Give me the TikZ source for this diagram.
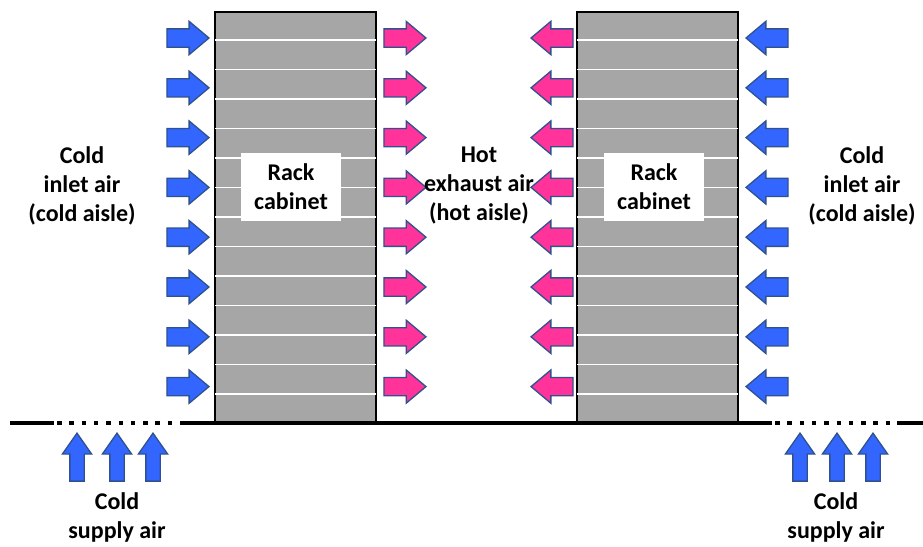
\documentclass[tikz,border=0pt]{standalone}
\usepackage{fontspec}
\setmainfont{Carlito}
\usetikzlibrary{shapes.arrows}

\definecolor{coldblue}{HTML}{3366FF}
\definecolor{hotpink}{HTML}{FF3399}
\definecolor{arrowedge}{HTML}{2F528F}
\definecolor{rackgray}{HTML}{A6A6A6}

\tikzset{
  flowarrow/.style={single arrow, draw=arrowedge, line width=1.3pt, inner xsep=0pt,
    inner ysep=8.5pt, minimum height=42pt, minimum width=0pt, anchor=tip,
    single arrow head extend=7.5pt, single arrow tip angle=80},
  cold flow/.style={flowarrow, fill=coldblue},
  hot flow/.style={flowarrow, fill=hotpink},
  supply flow/.style={single arrow, draw=arrowedge, line width=1.3pt, inner xsep=0pt,
    inner ysep=6.5pt, fill=coldblue, minimum height=48pt, minimum width=0pt,
    anchor=tip, single arrow head extend=7.5pt, single arrow tip angle=70, rotate=90},
  rack/.style={draw=black, line width=2.5pt, fill=rackgray, minimum width=161pt,
    minimum height=411pt, inner sep=0pt},
  rack label/.style={fill=white, minimum width=100pt, minimum height=68pt,
    align=center, font=\bfseries\fontsize{24}{29}\selectfont},
  air text/.style={align=center, font=\bfseries\fontsize{24}{29}\selectfont},
  floor/.style={line width=4pt, black}
}

\begin{document}
\begin{tikzpicture}[x=1pt, y=-1pt]
        \useasboundingbox (0,0) rectangle (923,546);

        % Racks
        \node[rack] (rackL) at (295.5,217.5) {};
        \node[rack] (rackR) at (657.5,217.5) {};
        \foreach \k in {0,...,12} {
            \pgfmathsetmacro\yy{40+29.5*\k}
            \draw[white, line width=1.2pt] ([xshift=1.5pt]rackL.west |- 0,\yy) -- ([xshift=-1.5pt]rackL.east |- 0,\yy);
            \draw[white, line width=1.2pt] ([xshift=1.5pt]rackR.west |- 0,\yy) -- ([xshift=-1.5pt]rackR.east |- 0,\yy);
        }
        \node[rack label] (labelL) at (291,187) {Rack\\cabinet};
        \node[rack label] (labelR) at (654,187) {Rack\\cabinet};

        % Floor with perforated tiles
        \draw[floor] (10,423) -- (54,423);
        \draw[floor, dash pattern=on 4.5pt off 7.8pt] (57,423) -- (176,423);
        \draw[floor] (180,423) -- (772,423);
        \draw[floor, dash pattern=on 4.5pt off 7.8pt] (775,423) -- (894,423);
        \draw[floor] (897,423) -- (923,423);

        % Air flow
        \foreach \k in {0,...,7} {
            \pgfmathsetmacro\yy{38+49.8*\k}
            \node[cold flow] (inL\k) at (210,\yy) {};
            \node[hot flow] (outL\k) at (427,\yy) {};
            \node[hot flow, rotate=180] (outR\k) at (530,\yy) {};
            \node[cold flow, rotate=180] (inR\k) at (745,\yy) {};
        }
        \foreach \x [count=\i] in {77,117,153,800,837,873}
            \node[supply flow] (up\i) at (\x,432) {};

        % Labels
        \node[air text] (coldL) at (82,186) {Cold\\inlet air\\(cold aisle)};
        \node[air text] (hot) at (479,186) {Hot\\exhaust air\\(hot aisle)};
        \node[air text] (coldR) at (862,186) {Cold\\inlet air\\(cold aisle)};
        \node[air text] (supplyL) at (117,517) {Cold\\supply air};
        \node[air text] (supplyR) at (836,517) {Cold\\supply air};

    \end{tikzpicture}
\end{document}
